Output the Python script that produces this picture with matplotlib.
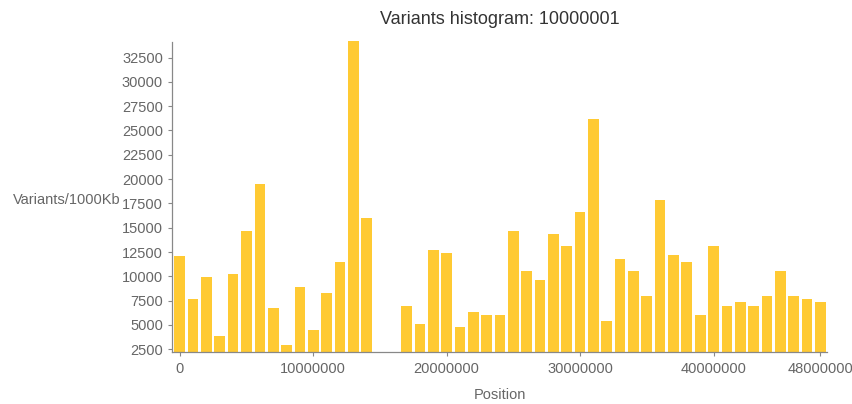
import matplotlib.pyplot as plt
import numpy as np

plt.rcParams['font.family'] = ['Liberation Sans', 'DejaVu Sans']

# Posiciones (inicio de cada ventana de 1 Mb) y variantes por ventana
posiciones = np.arange(0, 49) * 1000000
variantes = [12100, 7650, 9900, 3870, 10200, 14700, 19500, 6700, 2900, 8950,
             4450, 8300, 11500, 34200, 15950, 0, 0, 7000, 5100, 12750,
             12450, 4800, 6350, 6050, 6050, 14700, 10550, 9600, 14400, 13100,
             16600, 26200, 5400, 11800, 10550, 8000, 17900, 12150, 11500, 6050,
             13100, 7000, 7350, 7000, 8000, 10550, 8000, 7650, 7350]

yticks = np.arange(2500, 32501, 2500)
xticks = [0, 10000000, 20000000, 30000000, 40000000, 48000000]

ymin = 2170
ymax = 34200

fig = plt.figure(figsize=(8.53, 4.04), dpi=100)
ax = fig.add_axes([0.2017, 0.1275, 0.769, 0.771])

alturas = [max(v - ymin, 0) for v in variantes]
ax.bar(posiciones, alturas, bottom=ymin, width=800000, color='#FFCA33', linewidth=0)

ax.set_xlim(-580000, 48580000)
ax.set_ylim(ymin, ymax)
ax.set_yticks(yticks)
ax.set_yticklabels([str(t) for t in yticks])
ax.set_xticks(xticks)
ax.set_xticklabels([str(t) for t in xticks])

for lado in ['top', 'right']:
    ax.spines[lado].set_visible(False)
for lado in ['left', 'bottom']:
    ax.spines[lado].set_color('#888888')
    ax.spines[lado].set_linestyle((0, (2, 1)))
    ax.spines[lado].set_linewidth(0.9)

ax.tick_params(colors='#888888', labelcolor='#666666', labelsize=10.5, length=3, width=0.8)

ax.set_title('Variants histogram: 10000001', fontsize=13, color='#333333', pad=12)
ax.set_xlabel('Position', fontsize=10.5, color='#666666')
ax.xaxis.set_label_coords(0.5, -0.114)
ax.set_ylabel('Variants/1000Kb', fontsize=10.5, color='#666666', rotation=0,
              ha='right', va='center')
ax.yaxis.set_label_coords(-0.079, 0.49)

plt.savefig('out.png', dpi=100)
